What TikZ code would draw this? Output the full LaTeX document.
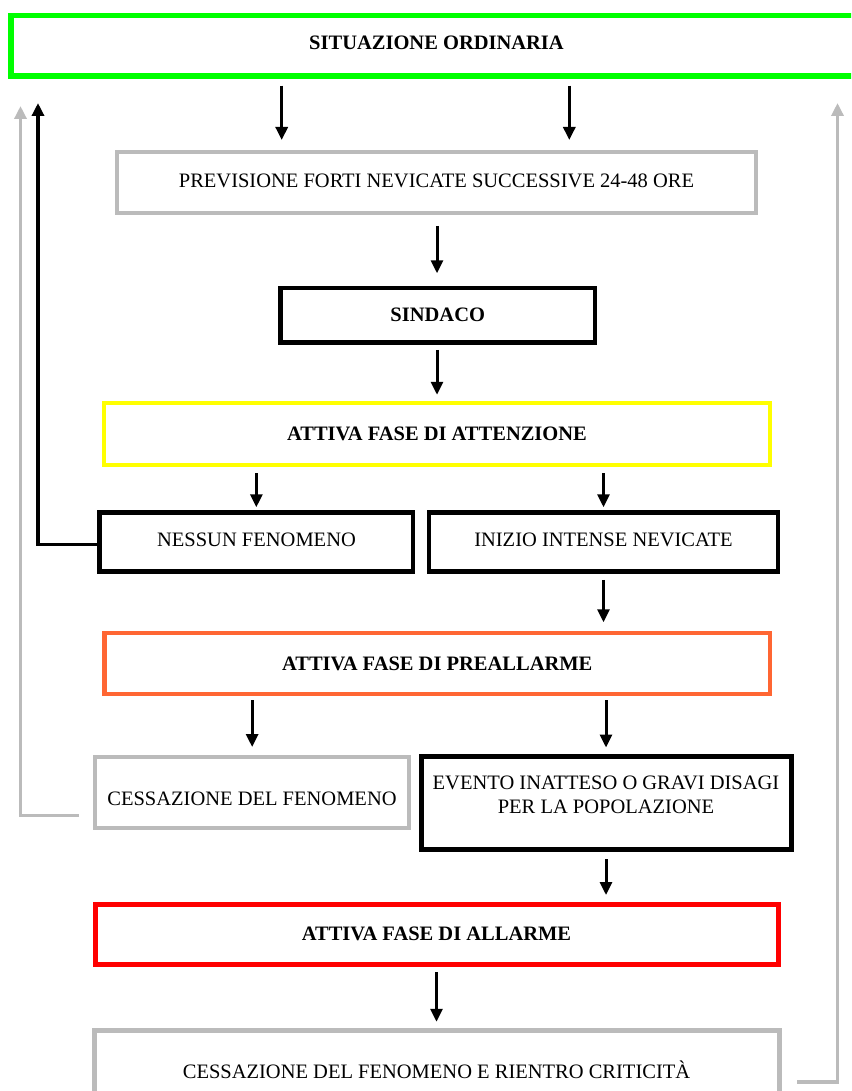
\documentclass[tikz,border=0pt]{standalone}
\usepackage{fontspec}
\setmainfont{Liberation Serif}
\usetikzlibrary{arrows.meta}
\definecolor{cgreen}{RGB}{0,255,0}
\definecolor{cgray}{RGB}{187,187,187}
\definecolor{cyellow}{RGB}{255,255,0}
\definecolor{corange}{RGB}{255,102,51}
\definecolor{cred}{RGB}{255,0,0}
\begin{document}
\begin{tikzpicture}[x=1pt,y=-1pt,
  box/.style={draw, rectangle, inner sep=0pt, font=\fontsize{20.5}{24}\selectfont, align=center},
  bbox/.style={box, font=\fontsize{20.5}{24}\selectfont\bfseries},
  txt/.style={inner sep=0pt, font=\fontsize{20.5}{24}\selectfont, align=center},
  btxt/.style={txt, font=\fontsize{20.5}{24}\selectfont\bfseries},
  arr/.style={line width=3pt, -{Triangle[width=12pt,length=13pt]}},
  conn/.style={line width=3.5pt, miter limit=10, -{Triangle[width=12pt,length=13pt]}},
  gconn/.style={conn, draw=cgray}
]
\useasboundingbox (0,0) rectangle (851,1091);
\clip (0,0) rectangle (851,1091);

% boxes
\node[box, draw=cgreen, line width=5.5pt, minimum width=889pt, minimum height=60.5pt] (sit) at (455.5,45.75) {};
\node[btxt] (sitT) at (436.5,42.5) {SITUAZIONE ORDINARIA};

\node[box, draw=cgray, line width=4pt, minimum width=639pt, minimum height=61.5pt] (prev) at (436.5,182.75) {};
\node[txt] (prevT) at (436.5,181) {PREVISIONE FORTI NEVICATE SUCCESSIVE 24-48 ORE};

\node[bbox, draw=black, line width=4.5pt, minimum width=314.5pt, minimum height=54.5pt] (sind) at (437.75,315.25) {SINDACO};

\node[bbox, draw=cyellow, line width=4.5pt, minimum width=666pt, minimum height=62pt] (att) at (437,434) {ATTIVA FASE DI ATTENZIONE};

\node[box, draw=black, line width=4.5pt, minimum width=313.3pt, minimum height=59pt] (ness) at (256.35,542) {};
\node[txt] (nessT) at (256.5,539.5) {NESSUN FENOMENO};
\node[box, draw=black, line width=4.5pt, minimum width=349pt, minimum height=59pt] (iniz) at (603.5,542) {};
\node[txt] (inizT) at (603.5,539.5) {INIZIO INTENSE NEVICATE};

\node[bbox, draw=corange, line width=4.5pt, minimum width=665.5pt, minimum height=61pt] (pre) at (437.25,663.5) {ATTIVA FASE DI PREALLARME};

\node[box, draw=cgray, line width=4pt, minimum width=313.7pt, minimum height=70.5pt] (cess) at (252.15,792.25) {};
\node[txt] (cessT) at (252,799) {CESSAZIONE DEL FENOMENO};

\node[box, draw=black, line width=5pt, minimum width=370pt, minimum height=93.2pt] (even) at (606,803.1) {};
\node[txt] (evenT) at (606,795) {EVENTO INATTESO O GRAVI DISAGI\\PER LA POPOLAZIONE};

\node[bbox, draw=cred, line width=5pt, minimum width=683pt, minimum height=60pt] (alla) at (436.5,934) {ATTIVA FASE DI ALLARME};

\node[box, draw=cgray, line width=4.5pt, minimum width=685pt, minimum height=99.5pt] (ries) at (437,1080.25) {};
\node[txt] (riesT) at (436.5,1070) {CESSAZIONE DEL FENOMENO E RIENTRO CRITICITÀ};

% vertical arrows
\draw[arr, shorten <=7pt, shorten >=10pt] (281.7,0 |- sit.south) -- (281.7,0 |- prev.north);
\draw[arr, shorten <=7pt, shorten >=10pt] (569.3,0 |- sit.south) -- (569.3,0 |- prev.north);
\draw[arr, shorten <=10.5pt, shorten >=12.5pt] (437,0 |- prev.south) -- (437,0 |- sind.north);
\draw[arr, shorten <=5pt, shorten >=6pt] (437,0 |- sind.south) -- (437,0 |- att.north);
\draw[arr, shorten <=6pt, shorten >=3pt] (ness.north |- att.south) -- (ness.north);
\draw[arr, shorten <=6pt, shorten >=3pt] (iniz.north |- att.south) -- (iniz.north);
\draw[arr, shorten <=6pt, shorten >=8.5pt] (iniz.south) -- (iniz.south |- pre.north);
\draw[arr, shorten <=4pt, shorten >=8pt] (cess.north |- pre.south) -- (cess.north);
\draw[arr, shorten <=4pt, shorten >=6.5pt] (even.north |- pre.south) -- (even.north);
\draw[arr, shorten <=7pt, shorten >=6.5pt] (even.south) -- (even.south |- alla.north);
\draw[arr, shorten <=5.5pt, shorten >=6.5pt] (436.5,0 |- alla.south) -- (436.5,0 |- ries.north);

% return connectors
\coordinate (btop) at (38,103);
\draw[conn] ([yshift=-2.5pt]ness.west) -| (btop);
\coordinate (gs) at (79,815.5);
\coordinate (gt) at (20.5,106);
\draw[gconn] (gs) -| (gt);
\coordinate (rs) at (797,1082);
\coordinate (rt) at (837.5,103);
\draw[gconn] (rs) -| (rt);
\end{tikzpicture}
\end{document}
